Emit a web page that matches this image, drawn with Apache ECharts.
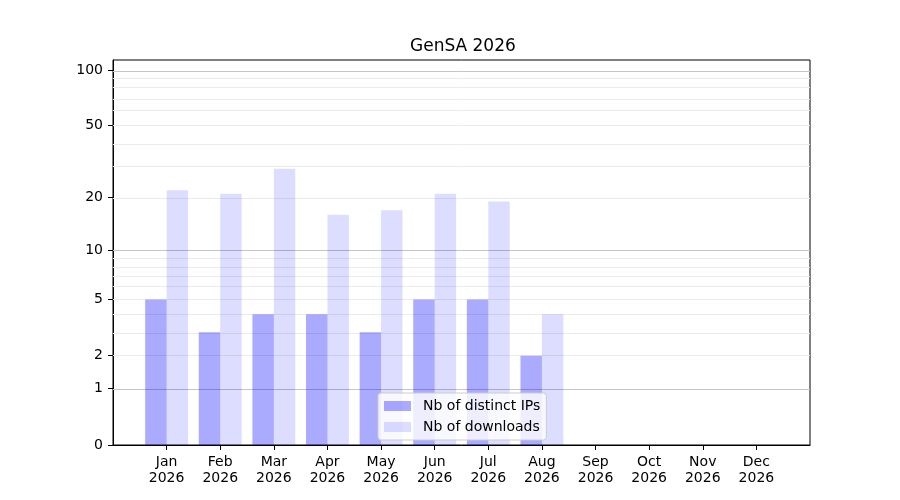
<!DOCTYPE html>
<html>
<head>
<meta charset="utf-8">
<script src="https://cdn.jsdelivr.net/npm/echarts@6/dist/echarts.min.js"></script>
<style>
html,body{margin:0;padding:0;background:#fff;}
#chart{width:900px;height:500px;}
</style>
</head>
<body>
<div id="chart"></div>
<script>
const TITLE = 'GenSA 2026';
const MONTHS = ['Jan','Feb','Mar','Apr','May','Jun','Jul','Aug','Sep','Oct','Nov','Dec'];
const YEAR = '2026';
const SERIES_NAMES = ['Nb of distinct IPs', 'Nb of downloads'];
const IPS = [5, 3, 4, 4, 3, 5, 5, 2, null, null, null, null];
const DOWNLOADS = [22, 21, 29, 16, 17, 21, 19, 4, null, null, null, null];
const Y_TICKS = [0, 1, 2, 5, 10, 20, 50, 100];
const Y_MAJOR_GRID = [1, 10, 100];
const Y_MINOR_GRID = [2, 3, 4, 5, 6, 7, 8, 9, 20, 30, 40, 50, 60, 70, 80, 90];
const Y_MAX_VALUE = 113.3;

// log10(v + 1) scale
const t = v => Math.log10(v + 1);
const inv = y => Math.round(Math.pow(10, y) - 1);

const FONT = 'DejaVu Sans';
const chart = echarts.init(document.getElementById('chart'), null, {renderer: 'canvas'});

const toData = arr => arr.map((v, i) => v == null ? [i, null] : [i, t(v)]);

const gridLines = [];
Y_MINOR_GRID.forEach(v => gridLines.push({yAxis: t(v), lineStyle: {color: '#ebebeb', width: 1, type: 'solid'}}));
Y_MAJOR_GRID.forEach(v => gridLines.push({yAxis: t(v), lineStyle: {color: '#c4c4c4', width: 1, type: 'solid'}}));

chart.setOption({
  animation: false,
  backgroundColor: '#ffffff',
  title: {
    text: TITLE,
    left: 410,
    top: 38,
    padding: 0,
    textStyle: {fontFamily: FONT, fontSize: 17, fontWeight: 'normal', color: '#000'}
  },
  grid: {
    left: 113, top: 60, width: 697, height: 385,
    show: true, borderColor: '#000', borderWidth: 1, backgroundColor: 'transparent'
  },
  legend: {
    orient: 'vertical',
    left: 378,
    top: 393,
    padding: [6, 6, 6, 6],
    itemWidth: 27,
    itemHeight: 10,
    itemGap: 7,
    icon: 'rect',
    backgroundColor: 'rgba(255,255,255,0.8)',
    borderColor: '#cccccc',
    borderWidth: 1,
    borderRadius: 3,
    textStyle: {fontFamily: FONT, fontSize: 14, color: '#000', lineHeight: 14, padding: [0, 0, 0, 7]},
    data: SERIES_NAMES
  },
  xAxis: {
    type: 'value',
    min: -1,
    max: 12,
    interval: 1,
    splitLine: {show: false},
    axisLine: {show: true, onZero: false, lineStyle: {color: '#000', width: 1}},
    axisTick: {show: true, length: 5, lineStyle: {color: '#000'}, customValues: MONTHS.map((m, i) => i)},
    axisLabel: {
      show: true,
      customValues: MONTHS.map((m, i) => i),
      formatter: v => (MONTHS[Math.round(v)] || '') + '\n' + YEAR,
      fontFamily: FONT, fontSize: 14, color: '#000', lineHeight: 16, margin: 9
    }
  },
  yAxis: {
    type: 'value',
    min: 0,
    max: t(Y_MAX_VALUE),
    splitLine: {show: false},
    axisLine: {show: true, onZero: false, lineStyle: {color: '#000', width: 1}},
    axisTick: {show: true, length: 5, lineStyle: {color: '#000'}, customValues: Y_TICKS.map(t)},
    axisLabel: {
      show: true,
      customValues: Y_TICKS.map(t),
      formatter: v => String(inv(v)),
      fontFamily: FONT, fontSize: 14, color: '#000', margin: 10
    }
  },
  series: [
    {
      name: SERIES_NAMES[0],
      type: 'bar',
      data: toData(IPS),
      barWidth: '40%',
      barGap: '0%',
      z: 2,
      itemStyle: {color: 'rgba(0,0,255,0.333)'},
      markLine: {
        z: 1,
        silent: true,
        symbol: 'none',
        label: {show: false},
        animation: false,
        data: gridLines
      }
    },
    {
      name: SERIES_NAMES[1],
      type: 'bar',
      data: toData(DOWNLOADS),
      barWidth: '40%',
      barGap: '0%',
      z: 2,
      itemStyle: {color: 'rgba(0,0,255,0.133)'}
    }
  ]
});
</script>
</body>
</html>
